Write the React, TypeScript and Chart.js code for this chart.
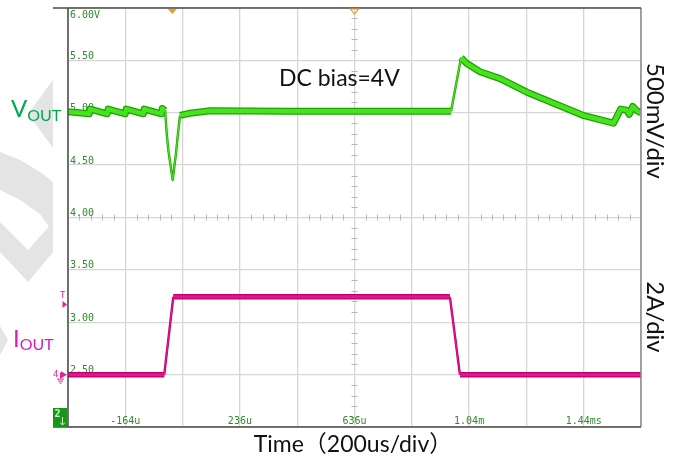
import React, { useEffect, useRef } from "react";
import { Chart, registerables } from "chart.js";

Chart.register(...registerables);

// Time base: 200 us per division, 10 divisions across the screen
const timeMin = -364;
const timeMax = 1636;
const timeGrid = [-364, -164, 36, 236, 436, 636, 836, 1036, 1236, 1436, 1636];

// Channel scale readout (0.5 per division)
const levelMin = 2.0;
const levelMax = 6.0;

// Tick readouts printed on the screen
const yTickValues = [6.0, 5.5, 5.0, 4.5, 4.0, 3.5, 3.0, 2.5];
const yTickLabels = ["6.00V", "5.50", "5.00", "4.50", "4.00", "3.50", "3.00", "2.50"];
const xTickValues = [-164, 236, 636, 1036, 1436];
const xTickLabels = ["-164u", "236u", "636u", "1.04m", "1.44ms"];

// Output voltage trace (time in us, level on the screen scale)
const voutTime = [
  -364, -290, -287, -227, -224, -164, -161, -101, -98, -38, -35, -25,
  -19.5, -13.9, -5.5, 1.4, 13, 20, 27, 62, 132, 400, 700, 973,
  1008, 1027, 1074, 1144, 1238, 1437, 1540, 1565, 1586, 1595, 1607, 1621, 1636,
];
const voutLevel = [
  5.01, 4.99, 5.035, 4.99, 5.035, 4.99, 5.035, 4.99, 5.035, 4.99, 5.04, 5.02,
  4.804, 4.645, 4.486, 4.36, 4.614, 4.804, 4.975, 4.995, 5.02, 5.015, 5.015, 5.015,
  5.526, 5.472, 5.392, 5.326, 5.196, 4.972, 4.9, 5.035, 5.025, 4.985, 5.06, 5.02, 5.0,
];

// Load current trace (time in us, amps; 2 A per division, zero on the 2.50 line)
const ioutTime = [-364, -28, 3.5, 969, 1004, 1636];
const ioutAmps = [0, 0, 2.97, 2.97, 0, 0];
const ampsMin = -2;
const ampsMax = 14;

const toPoints = (xs: number[], ys: number[]) => xs.map((x, i) => ({ x, y: ys[i] }));

// fast edges are drawn as a thin trace, settled parts as a wide band
const steep = (ctx: any) => {
  const dx = Math.abs(ctx.p1.x - ctx.p0.x);
  const dy = Math.abs(ctx.p1.y - ctx.p0.y);
  return dy > 8 && dy > 2 * dx;
};

const LABEL_FONT = "Lato, 'Noto Sans CJK SC', sans-serif";
const MONO_FONT = "'DejaVu Sans Mono', 'Liberation Mono', monospace";

const scopePlugin = {
  id: "scopeDecor",
  beforeDraw(chart: any) {
    const ctx = chart.ctx as CanvasRenderingContext2D;
    ctx.save();
    ctx.fillStyle = "#ffffff";
    ctx.fillRect(0, 0, chart.width, chart.height);
    // faint background logo shapes in the left margin
    ctx.fillStyle = "#e4e4e4";
    const shapes: number[][] = [
      [53, 80, 53, 148, 28, 114],
      [0, 152, 20, 160, 40, 172, 53, 182, 53, 232, 40, 214, 20, 200, 0, 190],
      [0, 222, 28, 250, 53, 222, 53, 252, 28, 282, 0, 252],
      [0, 326, 8, 340, 0, 355],
    ];
    shapes.forEach((s) => {
      ctx.beginPath();
      ctx.moveTo(s[0], s[1]);
      for (let i = 2; i < s.length; i += 2) ctx.lineTo(s[i], s[i + 1]);
      ctx.closePath();
      ctx.fill();
    });
    ctx.restore();
  },
  beforeDatasetsDraw(chart: any) {
    const ctx = chart.ctx as CanvasRenderingContext2D;
    const { left, right, top, bottom } = chart.chartArea;
    const xs = chart.scales.x;
    const ys = chart.scales.y;
    ctx.save();
    // minor ticks along the centre cross-hair
    const cx = xs.getPixelForValue((timeMin + timeMax) / 2);
    const cy = ys.getPixelForValue((levelMin + levelMax) / 2);
    ctx.strokeStyle = "#b8b8b8";
    ctx.lineWidth = 1;
    const divX = (right - left) / 10;
    const divY = (bottom - top) / 8;
    for (let i = 1; i < 50; i++) {
      if (i % 5 === 0) continue;
      const x = Math.round(left + (divX / 5) * i) + 0.5;
      ctx.beginPath();
      ctx.moveTo(x, cy - 3);
      ctx.lineTo(x, cy + 3);
      ctx.stroke();
    }
    for (let i = 1; i < 40; i++) {
      if (i % 5 === 0) continue;
      const y = Math.round(top + (divY / 5) * i) + 0.5;
      ctx.beginPath();
      ctx.moveTo(cx - 3, y);
      ctx.lineTo(cx + 3, y);
      ctx.stroke();
    }
    // on-screen readouts
    ctx.fillStyle = "#2e8b2e";
    ctx.font = `10px ${MONO_FONT}`;
    ctx.textAlign = "left";
    ctx.textBaseline = "alphabetic";
    yTickValues.forEach((v, i) => {
      const y = ys.getPixelForValue(v);
      const base = i === 0 ? y + 10 : y - 1.5;
      ctx.fillText(yTickLabels[i], left + 2, base);
    });
    ctx.textAlign = "center";
    xTickValues.forEach((v, i) => {
      ctx.fillText(xTickLabels[i], xs.getPixelForValue(v), bottom - 3);
    });
    ctx.restore();
  },
  afterDraw(chart: any) {
    const ctx = chart.ctx as CanvasRenderingContext2D;
    const { left, right, top, bottom } = chart.chartArea;
    const xs = chart.scales.x;
    const yi = chart.scales.yI;
    ctx.save();
    // screen frame
    ctx.strokeStyle = "#8a8a8a";
    ctx.lineWidth = 1.5;
    ctx.beginPath();
    ctx.moveTo(right, top);
    ctx.lineTo(right, bottom);
    ctx.stroke();
    ctx.strokeStyle = "#4a4a4a";
    ctx.beginPath();
    ctx.moveTo(53, top);
    ctx.lineTo(right, top);
    ctx.moveTo(53, bottom);
    ctx.lineTo(right, bottom);
    ctx.moveTo(left, top);
    ctx.lineTo(left, bottom);
    ctx.stroke();

    // trigger position marker
    const tx = xs.getPixelForValue(0);
    ctx.fillStyle = "#f39a1e";
    ctx.beginPath();
    ctx.moveTo(tx - 4.5, top + 1);
    ctx.lineTo(tx + 4.5, top + 1);
    ctx.lineTo(tx, top + 6);
    ctx.closePath();
    ctx.fill();
    // delay marker at screen centre
    const mx = xs.getPixelForValue((timeMin + timeMax) / 2);
    ctx.strokeStyle = "#f39a1e";
    ctx.lineWidth = 1.2;
    ctx.beginPath();
    ctx.moveTo(mx - 4, top + 1);
    ctx.lineTo(mx + 4, top + 1);
    ctx.lineTo(mx, top + 6);
    ctx.closePath();
    ctx.stroke();

    // channel 4 markers (trigger level and ground)
    const pink = "#e8209a";
    ctx.fillStyle = pink;
    ctx.strokeStyle = pink;
    ctx.font = `9px ${MONO_FONT}`;
    ctx.textAlign = "left";
    ctx.fillText("T", 60, 298);
    ctx.beginPath();
    ctx.moveTo(62.5, 301);
    ctx.lineTo(67, 304.5);
    ctx.lineTo(62.5, 308);
    ctx.closePath();
    ctx.fill();
    const gy = yi.getPixelForValue(0);
    ctx.fillText("4", 53, gy + 2);
    ctx.beginPath();
    ctx.moveTo(61, gy - 3.5);
    ctx.lineTo(67, gy);
    ctx.lineTo(61, gy + 3.5);
    ctx.closePath();
    ctx.fill();
    ctx.lineWidth = 1;
    ctx.beginPath();
    ctx.moveTo(60.5, gy - 2);
    ctx.lineTo(60.5, gy + 4);
    ctx.moveTo(57, gy + 4.5);
    ctx.lineTo(64, gy + 4.5);
    ctx.moveTo(58, gy + 6.5);
    ctx.lineTo(63, gy + 6.5);
    ctx.moveTo(59.5, gy + 8.5);
    ctx.lineTo(61.5, gy + 8.5);
    ctx.stroke();

    // channel 2 badge
    ctx.fillStyle = "#17961a";
    ctx.fillRect(53, bottom - 19, 14, 19);
    ctx.fillStyle = "#c8ffc8";
    ctx.font = `bold 10px ${MONO_FONT}`;
    ctx.fillText("2", 54.5, bottom - 10);
    ctx.strokeStyle = "#c8ffc8";
    ctx.beginPath();
    ctx.moveTo(62.5, bottom - 10);
    ctx.lineTo(62.5, bottom - 2);
    ctx.moveTo(60, bottom - 4.5);
    ctx.lineTo(62.5, bottom - 2);
    ctx.lineTo(65, bottom - 4.5);
    ctx.stroke();

    // annotations
    ctx.textBaseline = "alphabetic";
    ctx.fillStyle = "#00a850";
    ctx.font = `24px ${LABEL_FONT}`;
    ctx.textAlign = "left";
    ctx.fillText("V", 11, 117);
    const vw = ctx.measureText("V").width;
    ctx.font = `16px ${LABEL_FONT}`;
    ctx.fillText("OUT", 11 + vw, 120.5);

    ctx.fillStyle = "#d21cc4";
    ctx.font = `24px ${LABEL_FONT}`;
    ctx.fillText("I", 13, 346.5);
    const iw = ctx.measureText("I").width;
    ctx.font = `16px ${LABEL_FONT}`;
    ctx.fillText("OUT", 13 + iw, 349.5);

    ctx.fillStyle = "#111111";
    ctx.font = `23px ${LABEL_FONT}`;
    ctx.fillText("DC bias=4V", 279, 86);
    ctx.textAlign = "center";
    ctx.fillText("Time（200us/div）", 353, 452);

    const vertical = (text: string, cxp: number, cyp: number) => {
      ctx.save();
      ctx.translate(cxp, cyp);
      ctx.rotate(Math.PI / 2);
      ctx.textAlign = "center";
      ctx.fillText(text, 0, 0);
      ctx.restore();
    };
    ctx.font = `24px ${LABEL_FONT}`;
    vertical("500mV/div", 647, 121);
    vertical("2A/div", 647, 317);
    ctx.restore();
  },
};

export default function App() {
  const canvasRef = useRef<HTMLCanvasElement | null>(null);

  useEffect(() => {
    const canvas = canvasRef.current;
    if (!canvas) return;
    const thick = (wide: number, thin: number) => (ctx: any) => (steep(ctx) ? thin : wide);
    const chart = new Chart(canvas, {
      type: "line",
      data: {
        datasets: [
          {
            label: "IOUT edge",
            data: toPoints(ioutTime, ioutAmps),
            yAxisID: "yI",
            order: 4,
            borderColor: "#b8006c",
            borderWidth: 5.5,
            borderJoinStyle: "miter",
            segment: { borderWidth: thick(5.5, 2.4) },
            pointRadius: 0,
            tension: 0,
          },
          {
            label: "IOUT",
            data: toPoints(ioutTime, ioutAmps),
            yAxisID: "yI",
            order: 3,
            borderColor: "#e2178f",
            borderWidth: 3,
            borderJoinStyle: "miter",
            segment: { borderWidth: thick(3, 1.1) },
            pointRadius: 0,
            tension: 0,
          },
          {
            label: "VOUT edge",
            data: toPoints(voutTime, voutLevel),
            yAxisID: "y",
            order: 2,
            borderColor: "#1fa000",
            borderWidth: 7,
            borderJoinStyle: "round",
            segment: { borderWidth: thick(7, 2.4) },
            pointRadius: 0,
            tension: 0,
          },
          {
            label: "VOUT",
            data: toPoints(voutTime, voutLevel),
            yAxisID: "y",
            order: 1,
            borderColor: "#46e41e",
            borderWidth: 4.5,
            borderJoinStyle: "round",
            segment: { borderWidth: thick(4.5, 1.1) },
            pointRadius: 0,
            tension: 0,
          },
        ],
      },
      options: {
        animation: false,
        responsive: false,
        maintainAspectRatio: false,
        layout: { padding: { left: 68, top: 8, right: 42, bottom: 30 } },
        plugins: {
          legend: { display: false },
          tooltip: { enabled: false },
          title: { display: false },
        },
        scales: {
          x: {
            type: "linear",
            min: timeMin,
            max: timeMax,
            afterBuildTicks: (scale: any) => {
              scale.ticks = timeGrid.map((v) => ({ value: v }));
            },
            ticks: { display: false },
            grid: { color: "#d6d6d6", lineWidth: 1.3, drawTicks: false },
            border: { display: false },
          },
          y: {
            type: "linear",
            min: levelMin,
            max: levelMax,
            ticks: { display: false, stepSize: 0.5 },
            grid: { color: "#d6d6d6", lineWidth: 1.3, drawTicks: false },
            border: { display: false },
          },
          yI: {
            type: "linear",
            display: false,
            min: ampsMin,
            max: ampsMax,
          },
        },
      },
      plugins: [scopePlugin],
    });
    return () => chart.destroy();
  }, []);

  return (
    <div style={{ position: "absolute", left: 0, top: 0, width: 683, height: 457, background: "#fff" }}>
      <canvas ref={canvasRef} width={683} height={457} style={{ display: "block" }} />
    </div>
  );
}
